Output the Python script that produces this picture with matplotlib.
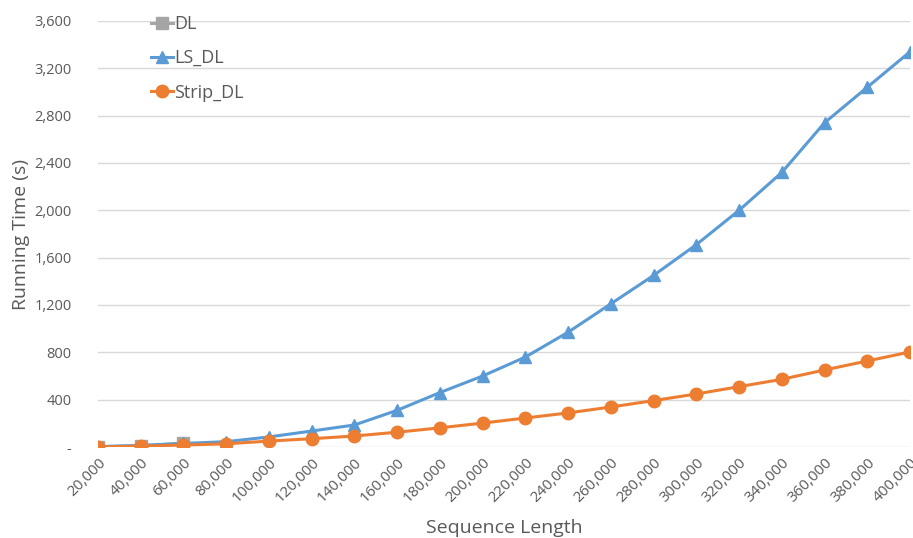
import matplotlib
matplotlib.use("Agg")
import matplotlib.pyplot as plt
from matplotlib.ticker import FuncFormatter

plt.rcParams['font.family'] = ['Open Sans', 'DejaVu Sans']

seq_len = [20000, 40000, 60000, 80000, 100000, 120000, 140000, 160000, 180000, 200000,
           220000, 240000, 260000, 280000, 300000, 320000, 340000, 360000, 380000, 400000]
dl_len = [20000, 40000, 60000]
dl = [3, 12, 32]
ls_dl = [3, 12, 30, 45, 85, 135, 186, 310, 460, 600,
         760, 970, 1210, 1450, 1710, 2000, 2320, 2740, 3040, 3340]
strip_dl = [0, 7, 17, 27, 50, 70, 93, 125, 162, 202,
            245, 288, 338, 392, 448, 510, 572, 651, 727, 803]
y_ticks = [0, 400, 800, 1200, 1600, 2000, 2400, 2800, 3200, 3600]

grey = '#595959'
fig = plt.figure(figsize=(9.13, 5.38), dpi=100)
ax = fig.add_axes([98 / 913, 1 - 447 / 538, 812 / 913, 426 / 538])

ax.plot(dl_len, dl, color='#A5A5A5', lw=2.2, marker='s', ms=8, label='DL', zorder=3)
ax.plot(seq_len, ls_dl, color='#5B9BD5', lw=2.2, marker='^', ms=9, label='LS_DL', zorder=4)
ax.plot(seq_len, strip_dl, color='#ED7D31', lw=2.2, marker='o', ms=9, label='Strip_DL', zorder=5)

ax.set_xlim(20000, 400000)
ax.set_ylim(0, 3600)
ax.set_xticks(seq_len)
ax.set_xticklabels([f'{v:,}' for v in seq_len], rotation=45, ha='right',
                   rotation_mode='anchor', color=grey, fontsize=11)
ax.set_yticks(y_ticks)
ax.yaxis.set_major_formatter(FuncFormatter(lambda v, p: '-' if v == 0 else f'{int(v):,}'))
ax.tick_params(axis='y', colors=grey, labelsize=10.5, length=0, pad=19)
ax.tick_params(axis='x', length=0, pad=6)
for s in ax.spines.values():
    s.set_visible(False)
ax.grid(axis='y', color='#D9D9D9', lw=1)
ax.set_axisbelow(True)

ax.set_xlabel('Sequence Length', fontsize=14, color=grey, labelpad=10)
ax.set_ylabel('Running Time (s)', fontsize=14, color=grey, labelpad=3)

leg = ax.legend(loc='upper left', bbox_to_anchor=(142 / 913, 1 - 6 / 538),
                bbox_transform=fig.transFigure, frameon=False, fontsize=13,
                handlelength=1.2, handletextpad=0.1, labelspacing=0.9, borderpad=0)
for t in leg.get_texts():
    t.set_color(grey)

fig.savefig('out.png', dpi=100)
